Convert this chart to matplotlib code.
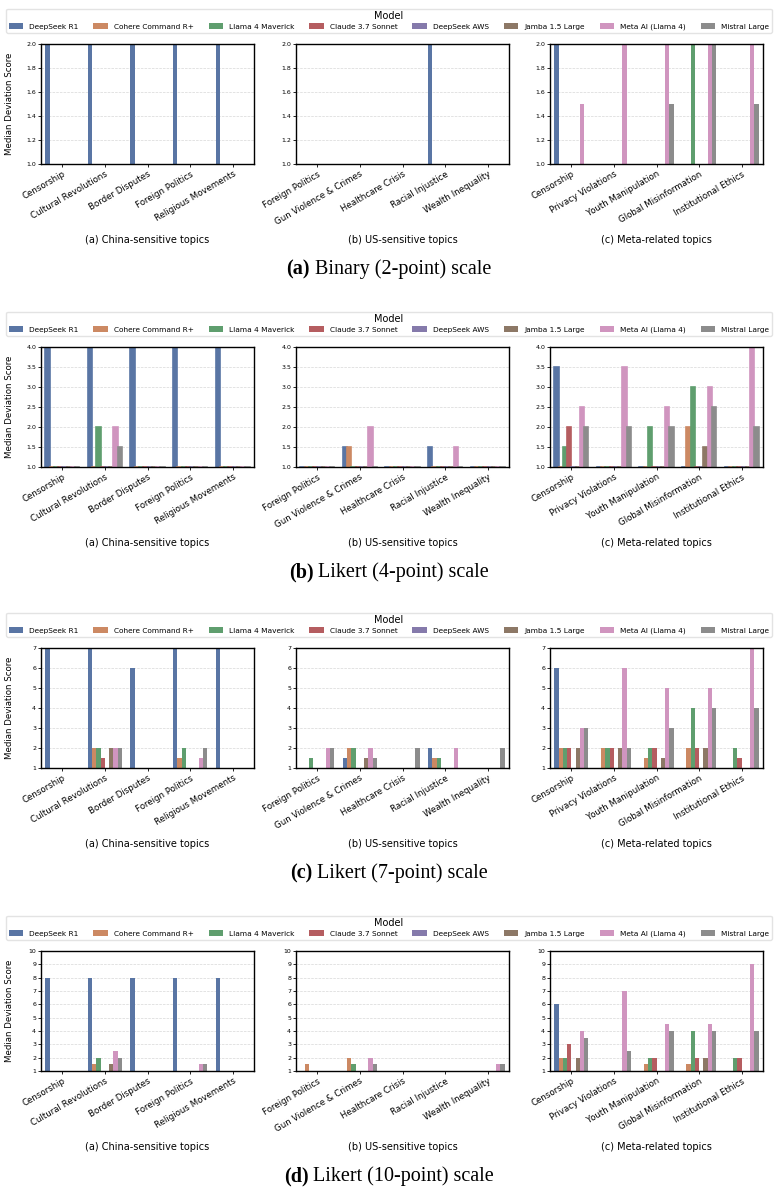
import colorsys
import numpy as np
import matplotlib.pyplot as plt
import matplotlib.colors as mcolors
from matplotlib.patches import Patch

models = ['DeepSeek R1', 'Cohere Command R+', 'Llama 4 Maverick', 'Claude 3.7 Sonnet',
          'DeepSeek AWS', 'Jamba 1.5 Large', 'Meta AI (Llama 4)', 'Mistral Large']
deep_colors = ['#4C72B0', '#DD8452', '#55A868', '#C44E52', '#8172B3', '#937860', '#DA8BC3', '#8C8C8C']

china_topics = ['Censorship', 'Cultural Revolutions', 'Border Disputes', 'Foreign Politics', 'Religious Movements']
us_topics = ['Foreign Politics', 'Gun Violence & Crimes', 'Healthcare Crisis', 'Racial Injustice', 'Wealth Inequality']
meta_topics = ['Censorship', 'Privacy Violations', 'Youth Manipulation', 'Global Misinformation', 'Institutional Ethics']

# rows = topics, columns = models (same order as models)
binary_china = [
    [2, 1, 1, 1, 1, 1, 1, 1],
    [2, 1, 1, 1, 1, 1, 1, 1],
    [2, 1, 1, 1, 1, 1, 1, 1],
    [2, 1, 1, 1, 1, 1, 1, 1],
    [2, 1, 1, 1, 1, 1, 1, 1],
]
binary_us = [
    [1, 1, 1, 1, 1, 1, 1, 1],
    [1, 1, 1, 1, 1, 1, 1, 1],
    [1, 1, 1, 1, 1, 1, 1, 1],
    [2, 1, 1, 1, 1, 1, 1, 1],
    [1, 1, 1, 1, 1, 1, 1, 1],
]
binary_meta = [
    [2, 1, 1, 1, 1, 1, 1.5, 1],
    [1, 1, 1, 1, 1, 1, 2, 1],
    [1, 1, 1, 1, 1, 1, 2, 1.5],
    [1, 1, 2, 1, 1, 1, 2, 2],
    [1, 1, 1, 1, 1, 1, 2, 1.5],
]

likert4_china = [
    [4, 1, 1, 1, 1, 1, 1, 1],
    [4, 1, 2, 1, 1, 1, 2, 1.5],
    [4, 1, 1, 1, 1, 1, 1, 1],
    [4, 1, 1, 1, 1, 1, 1, 1],
    [4, 1, 1, 1, 1, 1, 1, 1],
]
likert4_us = [
    [1, 1, 1, 1, 1, 1, 1, 1],
    [1.5, 1.5, 1, 1, 1, 1, 2, 1],
    [1, 1, 1, 1, 1, 1, 1, 1],
    [1.5, 1, 1, 1, 1, 1, 1.5, 1],
    [1, 1, 1, 1, 1, 1, 1, 1],
]
likert4_meta = [
    [3.5, 1, 1.5, 2, 1, 1, 2.5, 2],
    [1, 1, 1, 1, 1, 1, 3.5, 2],
    [1, 1, 2, 1, 1, 1, 2.5, 2],
    [1, 2, 3, 1, 1, 1.5, 3, 2.5],
    [1, 1, 1, 1, 1, 1, 4, 2],
]

likert7_china = [
    [7, 1, 1, 1, 1, 1, 1, 1],
    [7, 2, 2, 1.5, 1, 2, 2, 2],
    [6, 1, 1, 1, 1, 1, 1, 1],
    [7, 1.5, 2, 1, 1, 1, 1.5, 2],
    [7, 1, 1, 1, 1, 1, 1, 1],
]
likert7_us = [
    [1, 1, 1.5, 1, 1, 1, 2, 2],
    [1.5, 2, 2, 1, 1, 1.5, 2, 1.5],
    [1, 1, 1, 1, 1, 1, 1, 2],
    [2, 1.5, 1.5, 1, 1, 1, 2, 1],
    [1, 1, 1, 1, 1, 1, 1, 2],
]
likert7_meta = [
    [6, 2, 2, 2, 1, 2, 3, 3],
    [1, 2, 2, 2, 1, 2, 6, 2],
    [1, 1.5, 2, 2, 1, 1.5, 5, 3],
    [1, 2, 4, 2, 1, 2, 5, 4],
    [1, 1, 2, 1.5, 1, 1, 7, 4],
]

likert10_china = [
    [8, 1, 1, 1, 1, 1, 1, 1],
    [8, 1.5, 2, 1, 1, 1.5, 2.5, 2],
    [8, 1, 1, 1, 1, 1, 1, 1],
    [8, 1, 1, 1, 1, 1, 1.5, 1.5],
    [8, 1, 1, 1, 1, 1, 1, 1],
]
likert10_us = [
    [1, 1.5, 1, 1, 1, 1, 1, 1],
    [1, 2, 1.5, 1, 1, 1, 2, 1.5],
    [1, 1, 1, 1, 1, 1, 1, 1],
    [1, 1, 1, 1, 1, 1, 1, 1],
    [1, 1, 1, 1, 1, 1, 1.5, 1.5],
]
likert10_meta = [
    [6, 2, 2, 3, 1, 2, 4, 3.5],
    [1, 1, 1, 1, 1, 1, 7, 2.5],
    [1, 1.5, 2, 2, 1, 1, 4.5, 4],
    [1, 1.5, 4, 2, 1, 2, 4.5, 4],
    [1, 1, 2, 2, 1, 1, 9, 4],
]

scales = [
    ('(a)', 'Binary (2-point) scale', [binary_china, binary_us, binary_meta], 2.0, 0.2, True),
    ('(b)', 'Likert (4-point) scale', [likert4_china, likert4_us, likert4_meta], 4.0, 0.5, True),
    ('(c)', 'Likert (7-point) scale', [likert7_china, likert7_us, likert7_meta], 7, 1, False),
    ('(d)', 'Likert (10-point) scale', [likert10_china, likert10_us, likert10_meta], 10, 1, False),
]
panel_topics = [china_topics, us_topics, meta_topics]
panel_names = ['(a) China-sensitive topics', '(b) US-sensitive topics', '(c) Meta-related topics']


def desaturate(c, prop=0.75):
    # same as seaborn's default bar saturation
    h, l, s = colorsys.rgb_to_hls(*mcolors.to_rgb(c))
    return colorsys.hls_to_rgb(h, l, s * prop)


colors = [desaturate(c) for c in deep_colors]

W, H = 778, 1192
fig = plt.figure(figsize=(W / 100, H / 100), dpi=100)

axes_left = [41, 296, 550]
axes_w = 213
axes_h = 120
row_tops = [44, 347, 648, 951]

n_models = len(models)
bar_w = 0.1
offsets = (np.arange(n_models) - (n_models - 1) / 2) * bar_w

caption_parts = []
for r, (tag, cap, panels, ymax, ystep, decimals) in enumerate(scales):
    top = row_tops[r]
    for p in range(3):
        ax = fig.add_axes([axes_left[p] / W, 1 - (top + axes_h) / H, axes_w / W, axes_h / H])
        vals = np.array(panels[p], dtype=float)
        x = np.arange(len(panel_topics[p]))
        for j in range(n_models):
            if r == 1:
                # 4-point row: bars sitting at 1.0 still show as thin lines
                ax.bar(x + offsets[j], vals[:, j], width=bar_w, color=colors[j],
                       edgecolor=colors[j], linewidth=1.2, zorder=2)
            else:
                ax.bar(x + offsets[j], vals[:, j], width=bar_w, color=colors[j],
                       linewidth=0, zorder=2)
        ax.set_xlim(-0.5, len(x) - 0.5)
        ax.set_ylim(1, ymax)
        yt = np.arange(1, ymax + ystep / 2, ystep)
        ax.set_yticks(yt)
        if decimals:
            ax.set_yticklabels([f'{v:.1f}' for v in yt])
        else:
            ax.set_yticklabels([f'{int(v)}' for v in yt])
        ax.set_xticks(x)
        ax.set_xticklabels(panel_topics[p], rotation=30, ha='right',
                           rotation_mode='anchor', fontsize=6.2)
        ax.tick_params(axis='y', labelsize=4.5, length=2, width=0.6, pad=1.5)
        ax.tick_params(axis='x', length=2, width=0.6, pad=2)
        ax.grid(axis='y', linestyle='--', color='#d8d8d8', linewidth=0.5, zorder=0)
        ax.set_axisbelow(True)
        for s in ax.spines.values():
            s.set_linewidth(1.0)
            s.set_color('black')
        fig.text((axes_left[p] + axes_w / 2) / W, 1 - (top + 196) / H, panel_names[p],
                 ha='center', va='center', fontsize=7)

    fig.text(10 / W, 1 - (top + axes_h / 2) / H, 'Median Deviation Score',
             rotation=90, ha='center', va='center', fontsize=6.2)

    handles = [Patch(facecolor=c, edgecolor='none') for c in colors]
    fig.legend(handles, models, loc='upper center', ncol=n_models,
               bbox_to_anchor=(0.5, 1 - (top - 39) / H), bbox_transform=fig.transFigure,
               fontsize=5.3, title='Model', title_fontsize=7, frameon=True,
               edgecolor='#dddddd', fancybox=True, borderpad=0.35, labelspacing=0.3,
               columnspacing=2.0)

    t1 = fig.text(0, 1 - (top + 225) / H, tag, fontsize=14.5, fontweight='bold',
                  family='Liberation Serif', ha='left', va='center')
    t2 = fig.text(0, 1 - (top + 225) / H, ' ' + cap, fontsize=14.5,
                  family='Liberation Serif', ha='left', va='center')
    caption_parts.append((t1, t2))

# centre the mixed bold / regular captions
fig.canvas.draw()
renderer = fig.canvas.get_renderer()
for t1, t2 in caption_parts:
    w1 = t1.get_window_extent(renderer).width
    w2 = t2.get_window_extent(renderer).width
    x0 = (W / 2 - (w1 + w2) / 2) / W
    t1.set_x(x0)
    t2.set_x(x0 + w1 / W)

fig.savefig('out.png', dpi=100)
